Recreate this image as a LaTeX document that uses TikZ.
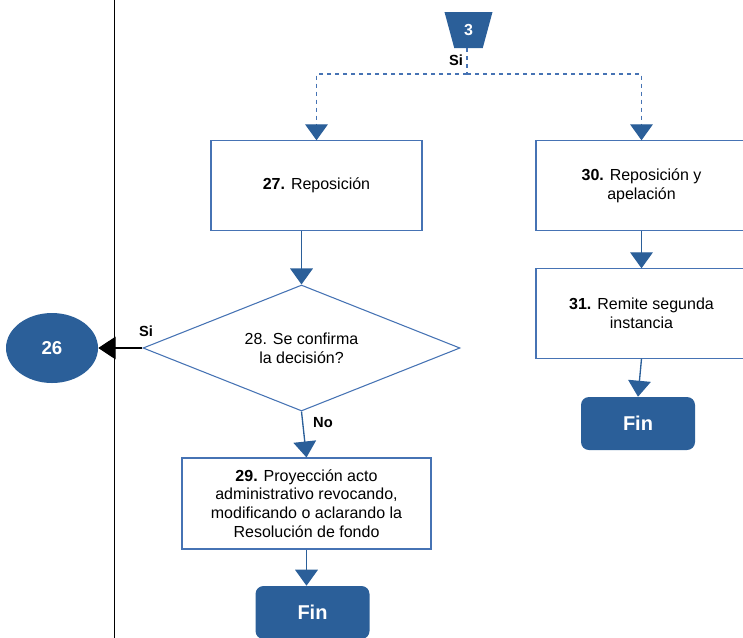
\documentclass[tikz,border=0pt]{standalone}
\usepackage{fontspec}
\setmainfont{Liberation Sans}
\usepackage{tikz}
\usetikzlibrary{arrows.meta,shapes.geometric,calc}

\definecolor{darkblue}{RGB}{43,95,153}
\definecolor{lineblue}{RGB}{70,115,180}

\begin{document}
\begin{tikzpicture}[x=0.75pt,y=-0.75pt,
    proc/.style={draw=lineblue, line width=0.8pt, fill=white, align=center, inner sep=0pt,
                 font=\fontsize{12}{14}\selectfont, minimum width=158.25pt, minimum height=67pt},
    decision/.style={diamond, draw=lineblue, line width=0.8pt, fill=white, align=center, inner sep=0pt,
                 aspect=2.5, font=\fontsize{12}{14}\selectfont, minimum width=237.75pt, minimum height=94.5pt},
    finbox/.style={rounded corners=6pt, fill=darkblue, text=white, inner sep=0pt,
                 font=\bfseries\fontsize{15}{18}\selectfont, minimum width=85.5pt, minimum height=39.75pt},
    flow/.style={draw=darkblue, line width=1pt, -{Triangle[width=17pt,length=12pt]}},
    dashflow/.style={draw=lineblue, line width=0.8pt, dashed},
    lbl/.style={font=\bfseries\fontsize{11}{13}\selectfont, inner sep=1pt}]
  \clip (0,0) rectangle (743,637);
  \draw[line width=0.7pt] (114,-5) -- (114,645);
  \node[trapezium, trapezium stretches=true, trapezium left angle=75, trapezium right angle=75,
        shape border rotate=180, fill=darkblue, text=white, inner sep=0pt,
        minimum width=36pt, minimum height=27pt, font=\bfseries\fontsize{12}{14}\selectfont] (c3) at (468.5,30) {3};
  \node[lbl] (si1) at (456,60) {Si};
  \coordinate (split) at (467,74);
  \node[proc] (r27) at (316.5,185.5) {\textbf{27.} Reposición};
  \node[decision] (q28) at (301.5,348) {28. Se confirma\\la decisión?};
  \node[ellipse, fill=darkblue, text=white, minimum width=69pt, minimum height=52.5pt, inner sep=0pt,
        font=\bfseries\fontsize{14}{16}\selectfont] (e26) at (52,348) {26};
  \node[lbl] (si2) at (146,331) {Si};
  \node[lbl] (no) at (323,423) {No};
  \node[proc, minimum width=186.75pt, minimum height=68.25pt] (r29) at (306.5,503.5)
        {\textbf{29.} Proyección acto\\administrativo revocando,\\modificando o aclarando la\\Resolución de fondo};
  \node[finbox] (fin1) at (312.5,612.5) {Fin};
  \node[proc] (r30) at (641.5,185.5) {\textbf{30.} Reposición y\\apelación};
  \node[proc] (r31) at (641.5,313.5) {\textbf{31.} Remite segunda\\instancia};
  \node[finbox] (fin2) at (638,423.5) {Fin};
  % conectores
  \draw[dashflow] (c3.south -| split) -- (split);
  \draw[dashflow] (split) -| (r27.north);
  \draw[dashflow] (split) -| (r30.north);
  \draw[flow] ($(r27.north)+(0,-16)$) -- (r27.north);
  \draw[flow] ($(r30.north)+(0,-16)$) -- (r30.north);
  \draw[flow] (q28.north |- r27.south) -- (q28.north);
  \draw[line width=0.8pt, -{Triangle[width=17pt,length=13pt]}] (q28.west) -- (e26.east);
  \draw[flow] (q28.south) -- (r29.north);
  \draw[flow] (r29.south) -- (r29.south |- fin1.north);
  \draw[flow] (r30.south) -- (r31.north);
  \draw[flow] (r31.south) -- (fin2.north);
\end{tikzpicture}
\end{document}
